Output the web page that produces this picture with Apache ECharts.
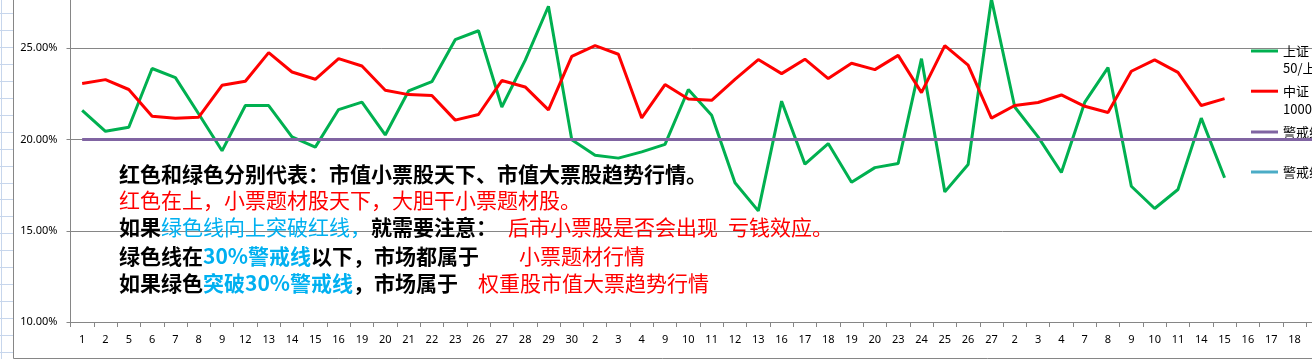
<!DOCTYPE html>
<html><head><meta charset="utf-8">
<script src="https://cdn.jsdelivr.net/npm/echarts@6/dist/echarts.min.js"></script>
<style>html,body{margin:0;padding:0;background:#fff;overflow:hidden}#c{width:1312px;height:359px}</style>
</head><body><div id="c"></div>
<script>
const categories = ['1','2','5','6','7','8','9','12','13','14','15','16','19','20','21','22','23','26','27','28','29','30',
  '2','3','4','9','10','11','12','13','16','17','18','19','20','23','24','25','26','27',
  '2','3','4','7','8','9','10','11','14','15','16','17','18','2'];

const shangzheng50 = [21.60,20.45,20.67,23.89,23.39,21.40,19.38,21.86,21.86,20.14,19.58,21.64,22.05,20.25,22.66,23.17,25.47,25.96,21.78,24.34,27.30,19.99,
  19.14,18.98,19.32,19.73,22.74,21.33,17.63,16.09,22.10,18.65,19.78,17.66,18.46,18.69,24.43,17.13,18.63,27.70,
  21.78,20.14,18.19,22.03,23.94,17.44,16.22,17.26,21.17,17.90,null,null,null,null];

const zhongzheng1000 = [23.07,23.28,22.74,21.28,21.17,21.22,22.97,23.19,24.76,23.70,23.30,24.43,24.03,22.70,22.46,22.41,21.06,21.37,23.23,22.88,21.62,24.56,
  25.14,24.67,21.18,23.01,22.22,22.15,23.30,24.38,23.61,24.40,23.34,24.18,23.83,24.61,22.57,25.14,24.07,21.17,
  21.86,22.03,22.44,21.82,21.48,23.74,24.36,23.68,21.86,22.24,null,null,null,null];

const warnLine20 = [20,20,20,20,20,20,20,20,20,20,20,20,20,20,20,20,20,20,20,20,20,20,20,20,20,20,20,
  20,20,20,20,20,20,20,20,20,20,20,20,20,20,20,20,20,20,20,20,20,20,20,20,20,20,20];

const warnLine30 = [30,30,30,30,30,30,30,30,30,30,30,30,30,30,30,30,30,30,30,30,30,30,30,30,30,30,30,
  30,30,30,30,30,30,30,30,30,30,30,30,30,30,30,30,30,30,30,30,30,30,30,30,30,30,30];

const yMin = 10, yMax = 30, yStep = 5;

const seriesNames = ['上证50/上证指数', '中证1000/中证全指', '警戒线', '警戒线30%'];
const legendFirstLines = ['上证', '中证', '警戒线', '警戒线'];
const legendSecondLines = ['50/上证指数', '1000/中证全指', '', ''];
const seriesColors = ['#00b050', '#ff0000', '#8064a2', '#4bacc6'];
const seriesData = [shangzheng50, zhongzheng1000, warnLine20, warnLine30];

const chart = echarts.init(document.getElementById('c'), null, {renderer: 'canvas'});

const cjk = '"Noto Sans CJK SC", sans-serif';
const legendCenters = [51, 91.2, 132, 172];
const legends = seriesNames.map((n, i) => ({
  data: [n],
  left: 1251,
  top: legendCenters[i] - 9.25,
  orient: 'vertical',
  padding: 0,
  icon: 'rect',
  itemWidth: 27,
  itemHeight: 3,
  selectedMode: false,
  formatter: name => legendFirstLines[seriesNames.indexOf(name)],
  textStyle: {fontSize: 13, lineHeight: 18.5, color: '#000', fontFamily: cjk}
}));

const bgGraphics = [];
bgGraphics.push({type: 'line', z: -10, shape: {x1: 1.5, y1: 0, x2: 1.5, y2: 359}, style: {stroke: '#c7d6ec', lineWidth: 1}});
for (let k = 0; k < 21; k++) {
  const y = Math.round(12.7 + k * 16.98) + 0.5;
  bgGraphics.push({type: 'line', z: -10, shape: {x1: 0, y1: y, x2: 13, y2: y}, style: {stroke: '#c7d6ec', lineWidth: 1}});
}
bgGraphics.push({type: 'line', z: -5, shape: {x1: 13.5, y1: 0, x2: 13.5, y2: 358.5}, style: {stroke: '#868686', lineWidth: 1}});
bgGraphics.push({type: 'line', z: -5, shape: {x1: 13.5, y1: 358.5, x2: 1312, y2: 358.5}, style: {stroke: '#868686', lineWidth: 1}});

// wrapped second lines of the legend entries
const legendWrap = legendSecondLines.map((t, i) => ({
  type: 'text', z: 100, x: 1283, y: legendCenters[i] + 17.5,
  style: {text: t, fill: '#000', font: '13px ' + cjk, verticalAlign: 'middle', align: 'left'}
})).filter(g => g.style.text);

const rich = {
  k: {fill: '#000', fontSize: 21, fontWeight: 'bold', fontFamily: cjk},
  b: {fill: '#00b0f0', fontSize: 21, fontWeight: 'bold', fontFamily: cjk},
  bn: {fill: '#00b0f0', fontSize: 21, fontWeight: 'normal', fontFamily: cjk},
  r: {fill: '#ff0000', fontSize: 21, fontWeight: 'normal', fontFamily: cjk},
  r11: {fill: '#ff0000', fontSize: 21, fontWeight: 'normal', fontFamily: cjk, padding: [0, 0, 0, 11]},
  r10: {fill: '#ff0000', fontSize: 21, fontWeight: 'normal', fontFamily: cjk, padding: [0, 0, 0, 10]},
  r40: {fill: '#ff0000', fontSize: 21, fontWeight: 'normal', fontFamily: cjk, padding: [0, 0, 0, 40]},
  r20: {fill: '#ff0000', fontSize: 21, fontWeight: 'normal', fontFamily: cjk, padding: [0, 0, 0, 20]}
};
const noteLines = [
  '{k|红色和绿色分别代表：市值小票股天下、市值大票股趋势行情。}',
  '{r|红色在上，小票题材股天下，大胆干小票题材股。}',
  '{k|如果}{bn|绿色线向上突破红线，}{k|就需要注意：}{r11|后市小票股是否会出现}{r10|亏钱效应。}',
  '{k|绿色线在}{b|30%警戒线}{k|以下，市场都属于}{r40|小票题材行情}',
  '{k|如果绿色}{b|突破30%警戒线}{k|，市场属于}{r20|权重股市值大票趋势行情}'
];
const noteY = [174, 200, 227.5, 256, 283];
const noteGraphics = noteLines.map((t, i) => ({
  type: 'text', z: 100, x: 119, y: noteY[i],
  style: {text: t, rich: rich, verticalAlign: 'middle', align: 'left', font: '21px ' + cjk}
}));

const option = {
  animation: false,
  backgroundColor: '#fff',
  grid: {left: 70.5, top: -43, width: 1259, height: 365, containLabel: false, outerBoundsMode: 'none'},
  legend: legends,
  xAxis: {
    type: 'category',
    data: categories,
    boundaryGap: true,
    axisLine: {lineStyle: {color: '#868686', width: 1}},
    axisTick: {show: true, length: 5, interval: 0, lineStyle: {color: '#868686'}},
    axisLabel: {interval: 0, color: '#000', fontSize: 11, fontFamily: '"Noto Sans", sans-serif', margin: 12},
    splitLine: {show: false}
  },
  yAxis: {
    type: 'value',
    min: yMin, max: yMax, interval: yStep,
    axisLine: {show: true, lineStyle: {color: '#868686', width: 1}},
    axisTick: {show: true, length: 4, lineStyle: {color: '#868686'}},
    axisLabel: {formatter: v => v.toFixed(2) + '%', color: '#000', fontSize: 11, fontFamily: '"Noto Sans", sans-serif', margin: 13},
    splitLine: {show: true, lineStyle: {color: '#868686', width: 1}}
  },
  series: seriesNames.map((n, i) => ({
    name: n,
    type: 'line',
    data: seriesData[i],
    color: seriesColors[i],
    symbol: 'none',
    showSymbol: false,
    lineStyle: {width: 3, color: seriesColors[i]},
    z: 2 + i
  })),
  graphic: bgGraphics.concat(legendWrap, noteGraphics)
};
chart.setOption(option);
</script>
</body></html>
